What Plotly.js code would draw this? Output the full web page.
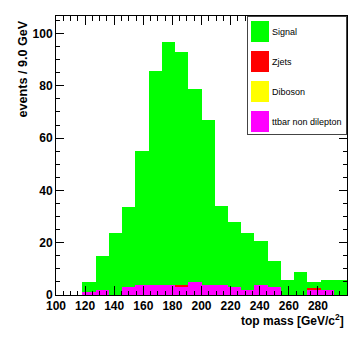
<!DOCTYPE html>
<html>
<head>
<meta charset="utf-8">
<script src="https://cdn.plot.ly/plotly-3.0.1.min.js"></script>
<style>
html,body{margin:0;padding:0;background:#fff;}
#plot{width:354px;height:340px;}
</style>
</head>
<body>
<div id="plot"></div>
<script>
// 22 bins of 200/22 GeV from 100 to 300 GeV
const binLow = 100;
const binWidth = 200 / 22;
const nBins = 22;
const binCenters = Array.from({length: nBins}, (_, i) => binLow + binWidth * (i + 0.5));

// stacked totals (top of green)
const totalHeight = [0, 0, 4.85, 14.9, 23.8, 33.8, 55.0, 85.8, 96.9, 92.8, 78.8, 66.8,
                     34.0, 27.8, 23.8, 20.8, 13.0, 5.7, 8.9, 4.8, 5.9, 5.9];
const ttbarNonDilepton = [0, 0, 0.96, 1.92, 0, 2.88, 3.84, 3.84, 3.84, 2.88, 4.8, 3.84,
                          3.84, 2.88, 1.92, 3.84, 2.88, 0, 0, 1.92, 1.92, 0];
const zjets = [0, 0, 0, 0, 0, 0, 0, 0, 0, 0.9, 0, 0,
               0, 0, 0, 0, 0, 0, 0, 0.9, 0, 0];
const diboson = [0, 0, 0, 0, 0, 0, 0, 0, 0, 0, 0, 0,
                 0, 0, 0, 0, 0, 0, 0, 0, 0, 0];
const signal = totalHeight.map((t, i) => Math.max(0, +(t - ttbarNonDilepton[i] - zjets[i] - diboson[i]).toFixed(2)));

const xTickVals = [100, 120, 140, 160, 180, 200, 220, 240, 260, 280];
const yTickVals = [0, 20, 40, 60, 80, 100];

function barTrace(name, values, color) {
  return {
    type: 'bar', name: name, x: binCenters, y: values, width: binWidth,
    marker: {color: color, line: {width: 0}}, hoverinfo: 'skip'
  };
}

const traces = [
  barTrace('ttbar non dilepton', ttbarNonDilepton, '#ff00ff'),
  barTrace('Diboson', diboson, '#ffff00'),
  barTrace('Zjets', zjets, '#ff0000'),
  barTrace('Signal', signal, '#00ff00')
];

const FONT = 'Liberation Sans, Arial, Helvetica, sans-serif';
const axisFont = {family: FONT, size: 12, color: '#000', weight: 'bold'};

const layout = {
  width: 354, height: 340,
  margin: {l: 56, r: 7, t: 16, b: 45},
  paper_bgcolor: '#fff', plot_bgcolor: '#fff',
  barmode: 'stack', bargap: 0,
  showlegend: true,
  legend: {
    x: 1, xanchor: 'right', y: 1, yanchor: 'top',
    bgcolor: '#fff', bordercolor: '#444', borderwidth: 1,
    font: {family: FONT, size: 9, color: '#000'},
    traceorder: 'reversed'
  },
  xaxis: {
    range: [100, 300], tickvals: xTickVals, ticktext: xTickVals.map(String),
    ticks: 'inside', ticklen: 9, tickwidth: 1, tickcolor: '#000',
    showline: true, linecolor: '#000', linewidth: 1, mirror: 'ticks',
    showgrid: false, zeroline: false, tickfont: axisFont,
    minor: {dtick: 5, tick0: 100, ticks: 'inside', ticklen: 4.5, tickcolor: '#000', showgrid: false}
  },
  yaxis: {
    range: [0, 106.7], tickvals: yTickVals, ticktext: yTickVals.map(String),
    ticks: 'inside', ticklen: 8, tickwidth: 1, tickcolor: '#000',
    showline: true, linecolor: '#000', linewidth: 1, mirror: 'ticks',
    showgrid: false, zeroline: false, tickfont: axisFont,
    minor: {dtick: 5, tick0: 0, ticks: 'inside', ticklen: 4, tickcolor: '#000', showgrid: false}
  },
  annotations: [
    {text: 'events / 9.0 GeV', textangle: -90, xref: 'paper', yref: 'paper',
     x: -0.113, xanchor: 'center', y: 0.99, yanchor: 'top', showarrow: false,
     font: {family: FONT, size: 12.6, color: '#000', weight: 'bold'}},
    {text: 'top mass [GeV/c<sup>2</sup>]', xref: 'paper', yref: 'paper',
     x: 0.997, xanchor: 'right', y: -0.09, yanchor: 'middle', showarrow: false,
     font: {family: FONT, size: 12, color: '#000', weight: 'bold'}}
  ]
};

// legend geometry (ROOT-like box), in pixels
const legendBox = {left: 247, top: 16, width: 100, height: 119, rowStart: 15.5, rowStep: 30,
                   symX: 13, symHalfW: 9, symHalfH: 10.5, textX: 25};

Plotly.newPlot('plot', traces, layout, {staticPlot: true, displayModeBar: false}).then(function (gd) {
  const leg = gd.querySelector('g.legend');
  if (!leg) return;
  leg.setAttribute('transform', 'translate(' + legendBox.left + ',' + legendBox.top + ')');
  const bg = leg.querySelector('rect.bg');
  if (bg) {
    bg.setAttribute('x', 0.5); bg.setAttribute('y', 0.5);
    bg.setAttribute('width', legendBox.width - 1); bg.setAttribute('height', legendBox.height - 1);
  }
  leg.querySelectorAll('[clip-path]').forEach(function (el) { el.removeAttribute('clip-path'); });
  const items = Array.from(leg.querySelectorAll('g.traces'));
  const legY = leg.getCTM().f;
  const info = items.map(function (it) {
    const m = /translate\(\s*([-\d.e]+)[ ,]+([-\d.e]+)\s*\)/.exec(it.getAttribute('transform') || '');
    const ty = m ? parseFloat(m[2]) : 0;
    const tx = m ? parseFloat(m[1]) : 0;
    const absY = it.getCTM().f - legY;
    const absX = it.getCTM().e - leg.getCTM().e;
    return {it: it, ty: ty, tx: tx, off: absY - ty, offX: absX - tx, y: absY};
  }).sort(function (a, b) { return a.y - b.y; });
  info.forEach(function (o, k) {
    const wantY = legendBox.rowStart + legendBox.rowStep * k;
    o.it.setAttribute('transform', 'translate(' + (-o.offX) + ',' + (wantY - o.off) + ')');
    const t = o.it.querySelector('text.legendtext');
    if (t) t.setAttribute('x', legendBox.textX);
    o.it.querySelectorAll('g.legendpoints path').forEach(function (p) {
      p.setAttribute('d', 'M' + legendBox.symHalfW + ',' + legendBox.symHalfH + 'H-' + legendBox.symHalfW +
                     'V-' + legendBox.symHalfH + 'H' + legendBox.symHalfW + 'Z');
      p.setAttribute('transform', 'translate(' + legendBox.symX + ',0)');
      p.style.strokeWidth = '0';
    });
  });
});
</script>
</body>
</html>
